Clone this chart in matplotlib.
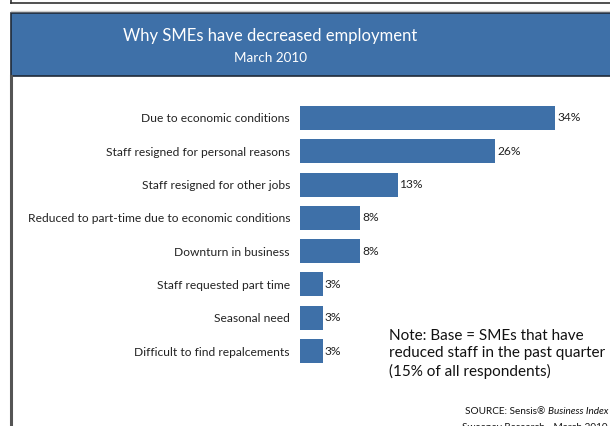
import matplotlib
matplotlib.use("Agg")
import matplotlib.pyplot as plt
from matplotlib.patches import Rectangle
from matplotlib.lines import Line2D

categories = [
    "Due to economic conditions",
    "Staff resigned for personal reasons",
    "Staff resigned for other jobs",
    "Reduced to part-time due to economic conditions",
    "Downturn in business",
    "Staff requested part time",
    "Seasonal need",
    "Difficult to find repalcements",
]
values = [34, 26, 13, 8, 8, 3, 3, 3]
value_labels = ["34%", "26%", "13%", "8%", "8%", "3%", "3%", "3%"]

title = "Why SMEs have decreased employment"
subtitle = "March 2010"
note_lines = ["Note: Base = SMEs that have", "reduced staff in the past quarter",
              "(15% of all respondents)"]
source_1 = "SOURCE: Sensis\u00ae "
source_2 = "Business Index"
source_3 = "Sweeney Research - March 2010"

BLUE = "#3e70a8"
FONT = ["Lato", "DejaVu Sans"]
plt.rcParams["font.family"] = FONT

W, H = 610, 426
fig = plt.figure(figsize=(W / 100, H / 100), dpi=100)
fig.patch.set_facecolor("white")
renderer = fig.canvas.get_renderer()


def fx(px):
    return px / W


def fy(py):
    return 1 - py / H


def fit(t, target_px):
    w = t.get_window_extent(renderer).width
    t.set_fontsize(t.get_fontsize() * target_px / w)
    return t.get_fontsize()


# frame decorations
fig.add_artist(Rectangle((fx(11), fy(76)), fx(640) - fx(11), fy(12.5) - fy(76),
                         facecolor=BLUE, edgecolor="#1f2a38", lw=1.2,
                         transform=fig.transFigure))
fig.add_artist(Line2D([fx(11), fx(11)], [fy(76), 0], color="#555555", lw=2.2,
                      transform=fig.transFigure))
fig.add_artist(Line2D([fx(11), fx(640)], [fy(3), fy(3)], color="#333333", lw=1.2,
                      transform=fig.transFigure))
fig.add_artist(Line2D([fx(11), fx(11)], [1, fy(3)], color="#333333", lw=1.2,
                      transform=fig.transFigure))
fig.add_artist(Line2D([fx(11), fx(640)], [fy(10.5), fy(10.5)], color="#cccccc", lw=1.0,
                      transform=fig.transFigure))

t1 = fig.text(fx(270), fy(36), title, ha="center", va="center", color="white", fontsize=14)
fit(t1, 295)
t2 = fig.text(fx(270), fy(58), subtitle, ha="center", va="center", color="white", fontsize=11)
fit(t2, 73)

# bar axes
left, right = 300, 600
top, bottom = 101.3, 367.7
ax = fig.add_axes([fx(left), fy(bottom), fx(right) - fx(left), fy(top) - fy(bottom)])
ypos = list(range(len(categories)))
bars = ax.barh(ypos, values, height=0.72, color=BLUE, edgecolor="none")
ax.set_xlim(0, 40)
ax.set_ylim(len(categories) - 0.5, -0.5)
ax.set_yticks(ypos)
ax.set_yticklabels(categories, fontsize=9, color="#222222")
ax.tick_params(axis="y", length=0, pad=7.2)
ax.set_xticks([])
for s in ax.spines.values():
    s.set_visible(False)
ax.patch.set_alpha(0)

probe = fig.text(0, 0, categories[3], fontsize=9)
fs_lab = fit(probe, 262)
probe.remove()
for lab in ax.get_yticklabels():
    lab.set_fontsize(fs_lab)

for b, lab in zip(bars, value_labels):
    ax.annotate(lab, (b.get_width(), b.get_y() + b.get_height() / 2),
                xytext=(1.5, 0), textcoords="offset points",
                ha="left", va="center", fontsize=fs_lab, color="#222222")

probe = fig.text(0, 0, note_lines[1], fontsize=11)
fs_note = fit(probe, 215)
probe.remove()
for i, line in enumerate(note_lines):
    fig.text(fx(389), fy(336 + 17.5 * i), line, ha="left", va="center",
             fontsize=fs_note, color="#111111")

probe = fig.text(0, 0, source_1 + source_2, fontsize=8)
fs_src = fit(probe, 148)
probe.remove()
src = fig.text(fx(608), fy(412), source_2, ha="right", va="center",
               fontsize=fs_src, style="italic", color="#111111")
bb = src.get_window_extent(renderer)
fig.text(bb.x0 / W, fy(412), source_1, ha="right", va="center",
         fontsize=fs_src, color="#111111")
fig.text(fx(608), fy(428), source_3, ha="right", va="center",
         fontsize=fs_src, color="#111111")

fig.savefig("out.png", dpi=100, facecolor="white")
